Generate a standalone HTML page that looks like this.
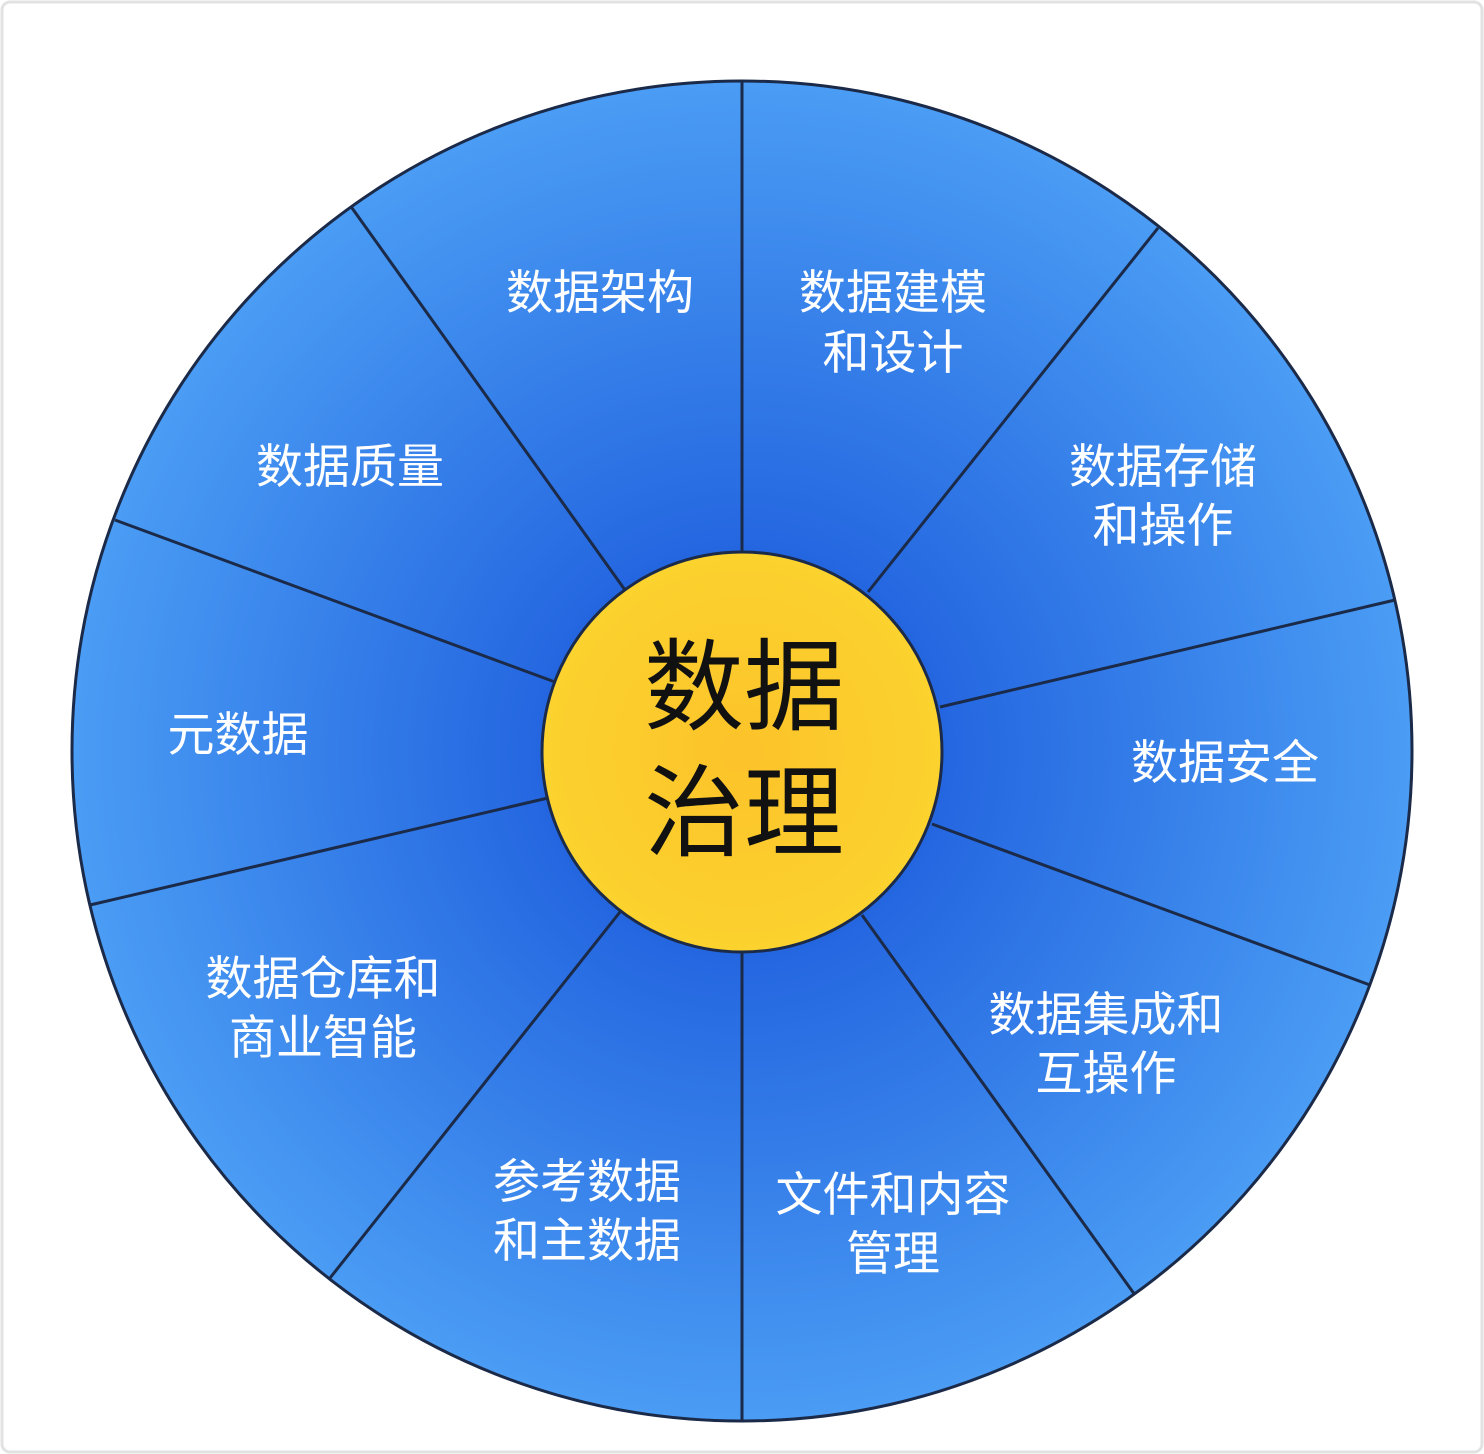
<!DOCTYPE html>
<html><head><meta charset="utf-8"><style>
html,body{margin:0;padding:0;background:#fff;}
svg{display:block;}
text{font-family:"Liberation Sans","Noto Sans CJK SC",sans-serif;}
</style></head><body>
<svg width="1484" height="1454" viewBox="0 0 1484 1454" xmlns="http://www.w3.org/2000/svg">
<defs>
<radialGradient id="g" cx="742" cy="752" r="670" gradientUnits="userSpaceOnUse">
<stop offset="0.3" stop-color="#2466e0"/>
<stop offset="1" stop-color="#4a9cf4"/>
</radialGradient>
<radialGradient id="y" cx="742" cy="752" r="200" gradientUnits="userSpaceOnUse">
<stop offset="0" stop-color="#fcc32a"/>
<stop offset="1" stop-color="#fbd22e"/>
</radialGradient>
</defs>
<rect x="2" y="2" width="1480" height="1450" rx="8" fill="#fff" stroke="#e2e2e2" stroke-width="3"/>
<circle cx="742" cy="751" r="670" fill="url(#g)" stroke="#1b2a48" stroke-width="3"/>
<g stroke="#1b2a48" stroke-width="3">
<line x1="742" y1="81" x2="742" y2="552"/>
<line x1="352" y1="208" x2="625" y2="590"/>
<line x1="115" y1="520" x2="555" y2="682"/>
<line x1="90" y1="905" x2="548" y2="798"/>
<line x1="330" y1="1278" x2="620" y2="912"/>
<line x1="742" y1="1421" x2="742" y2="952"/>
<line x1="1158" y1="228" x2="868" y2="592"/>
<line x1="1395" y1="600" x2="940" y2="707"/>
<line x1="1370" y1="985" x2="932" y2="824"/>
<line x1="1135" y1="1295" x2="862" y2="915"/>
</g>
<circle cx="742" cy="752" r="200" fill="url(#y)" stroke="#1b2a48" stroke-width="3"/>
<g fill="#111" font-size="100" text-anchor="middle">
<text x="744" y="722">数据</text>
<text x="744" y="848">治理</text>
</g>
<g fill="#fff" font-size="47" text-anchor="middle">
<text x="600" y="309">数据架构</text>
<text x="893" y="309">数据建模</text>
<text x="893" y="369">和设计</text>
<text x="350" y="483">数据质量</text>
<text x="1163" y="483">数据存储</text>
<text x="1163" y="542">和操作</text>
<text x="238" y="751">元数据</text>
<text x="1225" y="779">数据安全</text>
<text x="323" y="995">数据仓库和</text>
<text x="323" y="1054">商业智能</text>
<text x="1106" y="1031">数据集成和</text>
<text x="1106" y="1090">互操作</text>
<text x="587" y="1198">参考数据</text>
<text x="587" y="1257">和主数据</text>
<text x="893" y="1211">文件和内容</text>
<text x="893" y="1270">管理</text>
</g>
</svg>
</body></html>
